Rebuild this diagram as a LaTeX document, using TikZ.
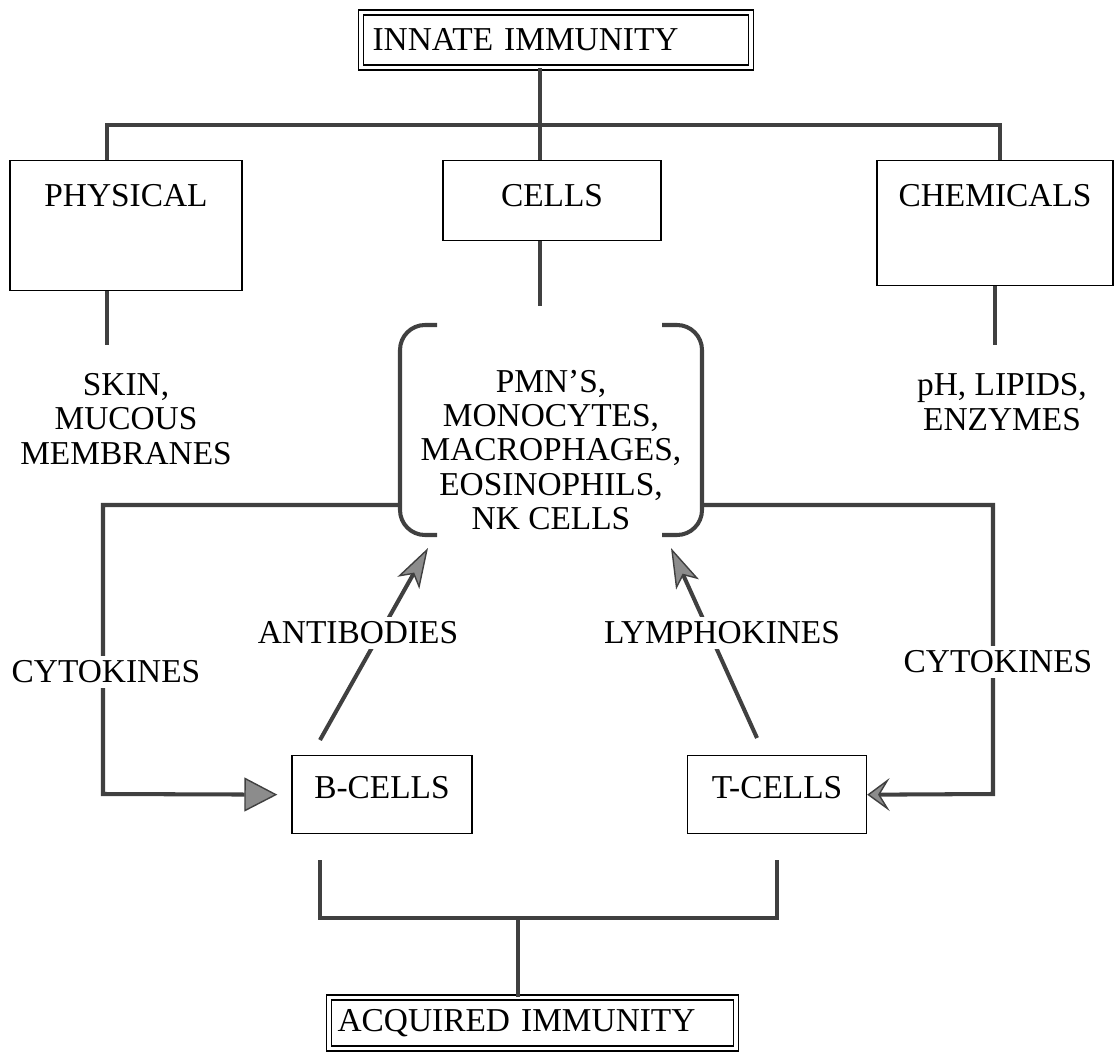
\documentclass[tikz,border=0pt]{standalone}
\usepackage{fontspec}
\setmainfont{Liberation Serif}
\usetikzlibrary{arrows.meta, positioning, calc}

\begin{document}
\begin{tikzpicture}[
  x=0.02cm, y=-0.02cm,
  font=\fontsize{19}{19.5}\selectfont,
  % Box styles
  title/.style={draw, line width=0.7pt, double, double distance=2.2pt,
                inner ysep=0pt, align=left, minimum height=1.1cm, anchor=west},
  group/.style={draw, line width=0.8pt, inner sep=0pt, anchor=north},
  plain/.style={align=center, inner sep=0pt},
  tag/.style={fill=white, inner sep=3pt},
  link/.style={line width=2.3pt, draw=black!75},
  bracket/.style={link, rounded corners=0.5cm},
  flow/.style={link, -{Triangle[length=0.66cm, width=0.68cm, fill=black!45, line width=0.8pt]}},
  flowst/.style={link, -{Stealth[length=0.45cm, width=0.66cm, inset=0.2cm, fill=black!45, line width=0.8pt]}},
  rise/.style={link, -{Stealth[length=0.8cm, width=0.5cm, inset=0.2cm, fill=black!45, line width=0.8pt]}},
]
\useasboundingbox (0,0) rectangle (1116,1054);

% ---- INNATE (top) ----
\node[title, inner xsep=0.23cm, text width=7.34cm] (innate) at (360.5,40) {INNATE IMMUNITY};

% ---- BARRIERS ----
\node[group, minimum width=4.64cm, text height=0.92cm, text depth=1.68cm] (phys)  at (126,160) {PHYSICAL};
\node[group, minimum width=4.36cm, text height=0.92cm, text depth=0.68cm] (cells) at (552,160) {CELLS};
\node[group, minimum width=4.72cm, text height=0.92cm, text depth=1.58cm] (chem)  at (995,160) {CHEMICALS};

\coordinate (hl) at (107,125);
\coordinate (hc) at (540,125);
\coordinate (hr) at (1000,125);

\draw[link] (innate.south -| hc) -- (cells.north -| hc);
\draw[link] (phys.north -| hl) |- (hr) -- (chem.north -| hr);

% examples under each box
\node[plain] (skin)  at (126,419) {SKIN,\\MUCOUS\\MEMBRANES};
\node[plain] (lipid) at (1002,402) {pH, LIPIDS,\\ENZYMES};
\node[plain] (list)  at (551,450) {PMN'S,\\MONOCYTES,\\MACROPHAGES,\\EOSINOPHILS,\\NK CELLS};

\coordinate (skintop) at (107,345);
\coordinate (listtop) at (540,306);
\coordinate (lipidtop) at (995,345);
\draw[link] (phys.south -| skintop) -- (skintop);
\draw[link] (cells.south -| listtop) -- (listtop);
\draw[link] (chem.south -| lipidtop) -- (lipidtop);

% brackets round the cell list
\draw[bracket] (437,325) -- (400,325) -- (400,535) -- (437,535);
\draw[bracket] (662,325) -- (702,325) -- (702,535) -- (662,535);
\coordinate (brl) at (400,505);
\coordinate (brr) at (702,505);

% ---- LYMPHOCYTES ----
\node[group, minimum width=3.6cm,  text height=0.86cm, text depth=0.7cm] (bcells) at (382,755) {B-CELLS};
\node[group, minimum width=3.58cm, text height=0.86cm, text depth=0.7cm] (tcells) at (777,755) {T-CELLS};

% cytokines loops
\coordinate (lcorner) at (103,794);
\coordinate (rcorner) at (993,794);
\draw[flow, shorten >=0.28cm] (brl) -| (lcorner) -- (bcells.west);
\draw[flowst] (brr) -| (rcorner) -- (tcells.east);
\node[tag] (cytl) at (106,672) {CYTOKINES};
\node[tag] (cytr) at (998,662) {CYTOKINES};

% products back to the cells
\coordinate (bup) at (320,740);
\coordinate (tup) at (757,738);
\coordinate (abtip) at (428,548);
\coordinate (lktip) at (671,548);
\draw[rise] (bup) -- (abtip);
\draw[rise] (tup) -- (lktip);
\node[tag] (anti)  at (358,633) {ANTIBODIES};
\node[tag] (lymph) at (722,633) {LYMPHOKINES};

% ---- ACQUIRED (bottom) ----
\node[title, inner xsep=0.17cm, text width=7.8cm, minimum height=1.02cm] (acq) at (328.5,1023) {ACQUIRED IMMUNITY};

\coordinate (bdown) at (320,860);
\coordinate (tdown) at (777,860);
\coordinate (join) at (518,918);
\draw[link] (bdown) |- (tdown |- join) -- (tdown);
\draw[link] (join) -- (acq.north -| join);

\end{tikzpicture}
\end{document}
